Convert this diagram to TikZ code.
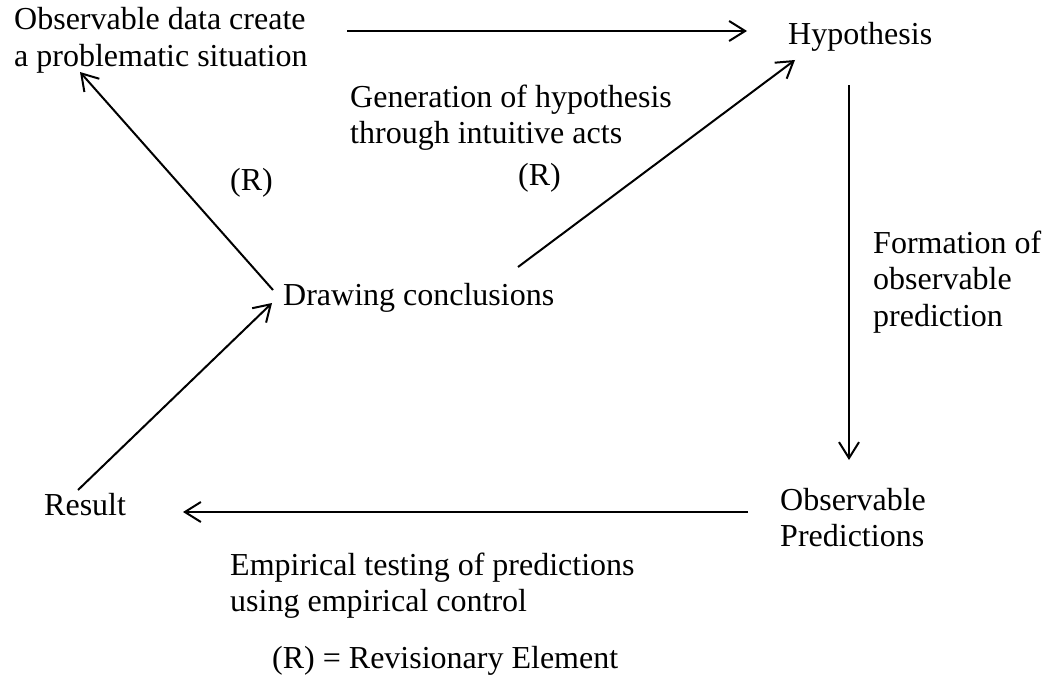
\documentclass[tikz,border=0pt]{standalone}
\usepackage{fontspec}
\setmainfont{Liberation Serif}
\usetikzlibrary{arrows.meta}
% stack of left-aligned lines whose baseline is that of the first line
\newcommand\linestack[1]{\vtop{\halign{##\hfil\cr#1\crcr}}}
\tikzset{
  lbl/.style={anchor=base west, inner sep=0pt, font=\fontsize{32}{36.5}\selectfont},
  flow/.style={line width=2pt, -{Straight Barb[length=16pt,width=20pt]}}
}
\begin{document}
\begin{tikzpicture}[x=1pt,y=-1pt]
  \useasboundingbox (0,0) rectangle (1054,677);

  % stages of the cycle
  \node[lbl] (obs)    at (14,30)   {\linestack{Observable data create\cr a problematic situation}};
  \node[lbl] (hyp)    at (788,45)  {Hypothesis};
  \node[lbl] (concl)  at (283,305) {Drawing conclusions};
  \node[lbl] (opred)  at (780,510) {\linestack{Observable\cr Predictions}};
  \node[lbl] (result) at (44,515)  {Result};

  % labels on the transitions
  \node[lbl] (gen)   at (350,107) {\linestack{Generation of hypothesis\cr through intuitive acts}};
  \node[lbl] (rmid)  at (518,185) {(R)};
  \node[lbl] (rleft) at (230,190) {(R)};
  \node[lbl] (form)  at (873,253) {\linestack{Formation of\cr observable\cr prediction}};
  \node[lbl] (emp)   at (230,575) {\linestack{Empirical testing of predictions\cr using empirical control}};
  \node[lbl] (legend) at (272,668) {(R) = Revisionary Element};

  % connector end points
  \coordinate (obsOut)   at (347,31);
  \coordinate (hypIn)    at (747,31);
  \coordinate (conclUp)  at (518,267);
  \coordinate (hypIn2)   at (795,60);
  \coordinate (conclBack) at (273,290);
  \coordinate (obsIn)    at (80,72);
  \coordinate (hypOut)   at (849,85);
  \coordinate (opredIn)  at (849,460);
  \coordinate (opredOut) at (748,512);
  \coordinate (resultIn) at (183,512);
  \coordinate (resultOut) at (78,490);
  \coordinate (conclIn)  at (272,303);

  \draw[flow] (obsOut) -- (hypIn);
  \draw[flow] (conclUp) -- (hypIn2);
  \draw[flow] (conclBack) -- (obsIn);
  \draw[flow] (hypOut) -- (opredIn);
  \draw[flow] (opredOut) -- (resultIn);
  \draw[flow] (resultOut) -- (conclIn);
\end{tikzpicture}
\end{document}
